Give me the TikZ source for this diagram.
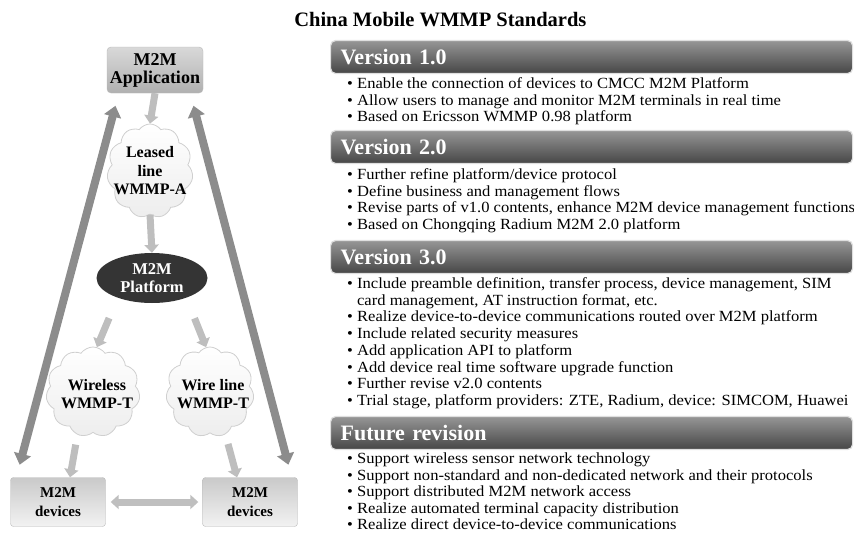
\documentclass[tikz,border=0pt]{standalone}
\usepackage{fontspec}
\setmainfont{Liberation Serif}
\newfontfamily\bodyfont{Liberation Serif}[FakeStretch=1.068]
\usetikzlibrary{arrows.meta,positioning,shapes.geometric,shapes.symbols}
\definecolor{barlight}{RGB}{150,150,150}
\definecolor{bardark}{RGB}{70,70,70}
\definecolor{platdark}{RGB}{52,52,52}
\definecolor{wayline}{RGB}{140,140,140}
\definecolor{feedline}{RGB}{190,190,190}

\begin{document}
\begin{tikzpicture}[x=1pt,y=-1pt,
  verbar/.style={anchor=west,rounded corners=5pt,draw=gray!25,line width=1.2pt,top color=barlight,bottom color=bardark,
    text=white,font=\fontsize{22}{24}\selectfont\bfseries,align=left,text width=502pt,inner xsep=10pt,minimum height=33pt},
  item/.style={anchor=west,inner sep=0pt,text height=10pt,text depth=3pt,font=\bodyfont\fontsize{15.5}{16.7}\selectfont},
  appbox/.style={rectangle,rounded corners=4pt,draw=gray!55,top color=gray!30,bottom color=gray!62,
    minimum width=96pt,minimum height=46pt,inner sep=0pt,align=center,font=\fontsize{18}{18}\selectfont\bfseries},
  devbox/.style={rectangle,rounded corners=3pt,draw=gray!55,top color=gray!42,bottom color=gray!10,
    minimum width=95pt,minimum height=49pt,inner sep=0pt,align=center,font=\fontsize{15}{19}\selectfont\bfseries},
  cloudy/.style={cloud,cloud puffs=11,cloud puff arc=110,draw=gray!38,line width=0.8pt,top color=white,bottom color=gray!14,inner sep=0pt},
  cloudtxt/.style={align=center,inner sep=0pt,font=\fontsize{16}{18.5}\selectfont\bfseries},
  longway/.style={line width=8pt,wayline,{Triangle[width=17pt,length=11pt]}-{Triangle[width=17pt,length=11pt]},shorten <=13pt,shorten >=13pt},
  feed/.style={line width=7pt,feedline,-{Triangle[width=14pt,length=8pt]}}]
\useasboundingbox (0,0) rectangle (854,533);

% left side: M2M architecture
\node[appbox] (app) at (155,70) {M2M\\Application};
\node[cloudy,minimum width=86pt,minimum height=94pt] (leased) at (150,171) {};
\node[cloudtxt] (leasedtxt) at (leased) {Leased\\line\\WMMP-A};
\node[ellipse,fill=platdark,minimum width=111pt,minimum height=50pt,inner sep=0pt,text=white,align=center,
  font=\fontsize{16.5}{18}\selectfont\bfseries] (plat) at (152,278) {M2M\\Platform};
\node[cloudy,minimum width=94pt,minimum height=90pt] (wireless) at (93,392) {};
\node[cloudtxt] (wirelesstxt) at (97,394) {Wireless\\WMMP-T};
\node[cloudy,minimum width=88pt,minimum height=90pt] (wirel) at (210,392) {};
\node[cloudtxt] (wireltxt) at (213,394) {Wire line\\WMMP-T};
\node[devbox] (devL) at (58,502) {M2M\\devices};
\node[devbox] (devR) at (250,502) {M2M\\devices};

\draw[feed] (app.south) -- (leased.north);
\draw[feed] (leased.south) -- (plat.north);
\draw[feed,shorten <=22pt] (plat.210) -- (wireless.85);
\draw[feed,shorten <=22pt] (plat.330) -- (wirel.95);
\draw[feed,shorten <=10pt] (wireless.250) -- ([xshift=12pt]devL.north);
\draw[feed,shorten <=10pt] (wirel.290) -- ([xshift=-13pt]devR.north);
\draw[longway] ([xshift=6pt]devL.north west) -- ([xshift=12pt]app.south west);
\draw[longway] ([xshift=-6pt]devR.north east) -- ([xshift=-13pt]app.south east);
\draw[line width=7pt,gray!50,{Triangle[width=14pt,length=8pt]}-{Triangle[width=14pt,length=8pt]},shorten <=5pt,shorten >=4pt] (devL.east) -- (devR.west);

% right side: standards
\node[font=\fontsize{20.5}{22}\selectfont\bfseries,anchor=east] (title) at (590,20) {China Mobile WMMP Standards};

\node[verbar] (v1) at (330,57) {Version 1.0};
\foreach \t [count=\i] in {Enable the connection of devices to CMCC M2M Platform,
  Allow users to manage and monitor M2M terminals in real time,
  Based on Ericsson WMMP 0.98 platform}
  \node[item] (v1-\i) at (347,{85+16.7*(\i-1)}) {• \t};

\node[verbar] (v2) at (330,147) {Version 2.0};
\foreach \t [count=\i] in {Further refine platform/device protocol,
  Define business and management flows,
  {Revise parts of v1.0 contents, enhance M2M device management functions},
  Based on Chongqing Radium M2M 2.0 platform}
  \node[item] (v2-\i) at (347,{176+16.7*(\i-1)}) {• \t};

\node[verbar] (v3) at (330,257) {Version 3.0};
\foreach \t [count=\i] in {{• Include preamble definition, transfer process, device management, SIM},
  {\phantom{• }card management, AT instruction format, etc.},
  • Realize device-to-device communications routed over M2M platform,
  • Include related security measures,
  • Add application API to platform,
  • Add device real time software upgrade function,
  • Further revise v2.0 contents,
  {• Trial stage, platform providers: ZTE, Radium, device: SIMCOM, Huawei}}
  \node[item] (v3-\i) at (347,{285+16.7*(\i-1)}) {\t};

\node[verbar] (fut) at (330,433) {Future revision};
\foreach \t [count=\i] in {Support wireless sensor network technology,
  Support non-standard and non-dedicated network and their protocols,
  Support distributed M2M network access,
  Realize automated terminal capacity distribution,
  Realize direct device-to-device communications}
  \node[item] (fut-\i) at (347,{460+16.6*(\i-1)}) {• \t};
\end{tikzpicture}
\end{document}
